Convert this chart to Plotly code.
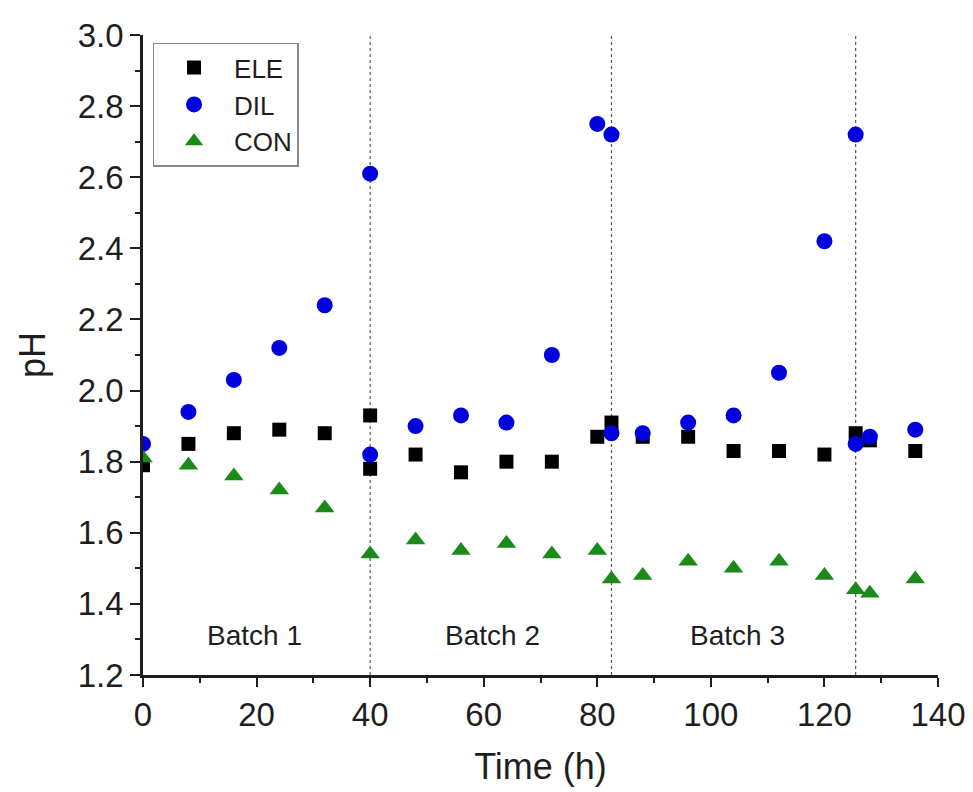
import plotly.graph_objects as go

# Data
ele_t = [0, 8, 16, 24, 32, 40, 40, 48, 56, 64, 72, 80, 82.5, 88, 96, 104, 112, 120, 125.5, 128, 136]
ele_ph = [1.79, 1.85, 1.88, 1.89, 1.88, 1.93, 1.78, 1.82, 1.77, 1.80, 1.80, 1.87, 1.91, 1.87, 1.87, 1.83, 1.83, 1.82, 1.88, 1.86, 1.83]

dil_t = [0, 8, 16, 24, 32, 40, 40, 48, 56, 64, 72, 80, 82.5, 82.5, 88, 96, 104, 112, 120, 125.5, 125.5, 128, 136]
dil_ph = [1.85, 1.94, 2.03, 2.12, 2.24, 2.61, 1.82, 1.90, 1.93, 1.91, 2.10, 2.75, 2.72, 1.88, 1.88, 1.91, 1.93, 2.05, 2.42, 2.72, 1.85, 1.87, 1.89]

con_t = [0, 8, 16, 24, 32, 40, 48, 56, 64, 72, 80, 82.5, 88, 96, 104, 112, 120, 125.5, 128, 136]
con_ph = [1.81, 1.79, 1.76, 1.72, 1.67, 1.54, 1.58, 1.55, 1.57, 1.54, 1.55, 1.47, 1.48, 1.52, 1.50, 1.52, 1.48, 1.44, 1.43, 1.47]

batch_boundaries = [40, 82.5, 125.5]
batch_labels = ["Batch 1", "Batch 2", "Batch 3"]
batch_label_x = [19.7, 61.6, 104.7]
batch_label_y = 1.31

FONT = "Liberation Sans, Arial, sans-serif"
TXT = "#1e1e1e"

fig = go.Figure()
fig.add_trace(go.Scatter(x=ele_t, y=ele_ph, mode="markers", name="ELE",
                         marker=dict(symbol="square", size=14, color="#000000")))
fig.add_trace(go.Scatter(x=dil_t, y=dil_ph, mode="markers", name="DIL",
                         marker=dict(symbol="circle", size=16, color="#0000dd")))
fig.add_trace(go.Scatter(x=con_t, y=con_ph, mode="markers", name="CON",
                         marker=dict(symbol="triangle-up", size=17, color="#1a8a1a")))

for b in batch_boundaries:
    fig.add_shape(type="line", x0=b, x1=b, xref="x", y0=0, y1=1, yref="paper",
                  line=dict(color="#555555", width=1.2, dash="dot"), layer="below")

for lbl, bx in zip(batch_labels, batch_label_x):
    fig.add_annotation(x=bx, y=batch_label_y, text=lbl, showarrow=False,
                       font=dict(family=FONT, size=28, color=TXT))

fig.update_layout(
    width=973, height=792,
    margin=dict(l=143, r=35, t=35, b=117),
    paper_bgcolor="white", plot_bgcolor="white",
    font=dict(family=FONT, color=TXT),
    showlegend=True,
    legend=dict(x=0.012, y=0.988, xanchor="left", yanchor="top",
                bordercolor="#888888", borderwidth=1.5, bgcolor="white",
                font=dict(family=FONT, size=26, color=TXT),
                itemwidth=70, tracegroupgap=0),
)
fig.update_xaxes(range=[0, 140], tick0=0, dtick=20, ticks="outside", ticklen=9, tickwidth=2,
                 showline=True, linewidth=2.5, linecolor=TXT, showgrid=False, zeroline=False,
                 automargin=False,
                 tickfont=dict(family=FONT, size=33, color=TXT),
                 title=dict(text="Time (h)", font=dict(family=FONT, size=36, color=TXT), standoff=22),
                 minor=dict(ticks="outside", ticklen=5, tickwidth=2, dtick=10, tick0=0, tickcolor=TXT),
                 tickcolor=TXT)
fig.update_yaxes(range=[1.2, 3.0], tick0=1.2, dtick=0.2, tickformat=".1f", ticks="outside", ticklen=10, tickwidth=2,
                 showline=True, linewidth=2.5, linecolor=TXT, showgrid=False, zeroline=False,
                 automargin=False,
                 tickfont=dict(family=FONT, size=33, color=TXT),
                 title=dict(text="pH", font=dict(family=FONT, size=36, color=TXT), standoff=22),
                 minor=dict(ticks="outside", ticklen=5, tickwidth=2, dtick=0.1, tick0=1.2, tickcolor=TXT),
                 tickcolor=TXT)

fig.write_html("out.html")
